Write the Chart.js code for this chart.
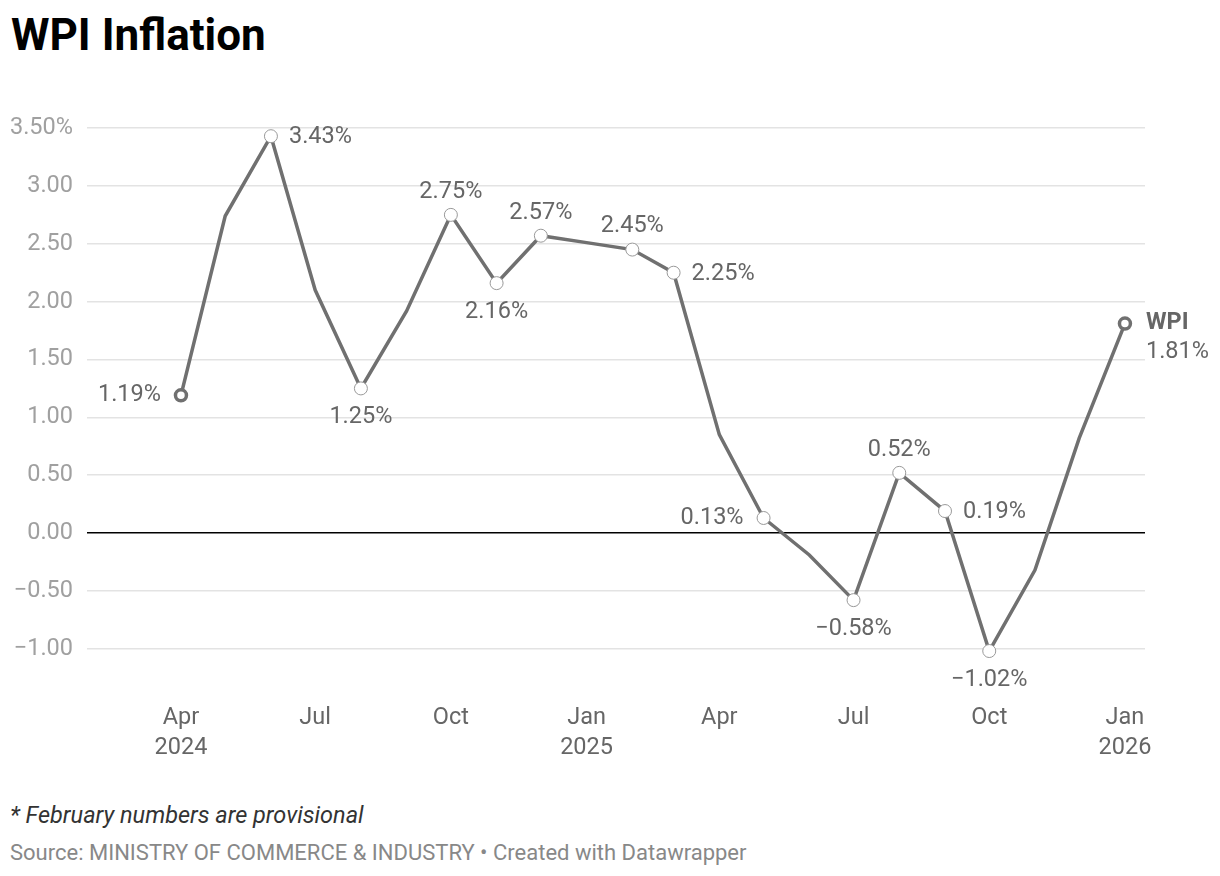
<!DOCTYPE html>
<html>
<head>
<meta charset="utf-8">
<script src="https://cdn.jsdelivr.net/npm/chart.js@4.4.1/dist/chart.umd.min.js"></script>
<style>
  html, body { margin: 0; padding: 0; background: #fff; }
  body { width: 1220px; height: 876px; position: relative; overflow: hidden; font-family: Roboto, "Noto Sans", sans-serif; }
  #title { position: absolute; left: 11px; top: 9px; font-size: 44px; font-weight: 700; color: #000; line-height: 52px; }
  #wrap { position: absolute; left: 0; top: 100px; width: 1220px; height: 680px; }
  #note { position: absolute; left: 10px; top: 800px; font-size: 23.5px; font-style: italic; color: #333; line-height: 30px; }
  #source { position: absolute; left: 10px; top: 839px; font-size: 22px; color: #888; line-height: 28px; }
</style>
</head>
<body>
<div id="title">WPI Inflation</div>
<div id="wrap"><canvas id="c"></canvas></div>
<div id="note">* February numbers are provisional</div>
<div id="source">Source: MINISTRY OF COMMERCE &amp; INDUSTRY • Created with Datawrapper</div>
<script>
// ---- data ----
const months = ["2024-04","2024-05","2024-06","2024-07","2024-08","2024-09","2024-10","2024-11","2024-12",
                "2025-01","2025-02","2025-03","2025-04","2025-05","2025-06","2025-07","2025-08","2025-09",
                "2025-10","2025-11","2025-12","2026-01"];
const wpi = [1.19, 2.74, 3.43, 2.10, 1.25, 1.92, 2.75, 2.16, 2.57,
             2.51, 2.45, 2.25, 0.85, 0.13, -0.19, -0.58, 0.52, 0.19,
             -1.02, -0.32, 0.82, 1.81];
const yTicks = [-1, -0.5, 0, 0.5, 1, 1.5, 2, 2.5, 3, 3.5];
const xTickMonths = ["2024-04","2024-07","2024-10","2025-01","2025-04","2025-07","2025-10","2026-01"];
const monthNames = ["Jan","Feb","Mar","Apr","May","Jun","Jul","Aug","Sep","Oct","Nov","Dec"];
// label placement per point (null = no label/marker)
const labelPos = ["left", null, "right", null, "below", null, "above", "below", "above",
                  null, "above", "right", null, "left", null, "below", "above", "right",
                  "below", null, null, "end"];

const base = Date.UTC(2024, 3, 1);
function dayOf(m) { const [y, mo] = m.split("-").map(Number); return (Date.UTC(y, mo - 1, 1) - base) / 86400000; }
const points = months.map((m, i) => ({ x: dayOf(m), y: wpi[i] }));
const xTickVals = xTickMonths.map(dayOf);

const lineColor = "#707070";
const lastIdx = wpi.length - 1;

const radii = labelPos.map((p, i) => (i === 0 || i === lastIdx) ? 5.5 : (p ? 6.5 : 0));
const bw = labelPos.map((p, i) => (i === 0 || i === lastIdx) ? 3.5 : 1);
const bc = labelPos.map((p, i) => (i === 0 || i === lastIdx) ? lineColor : "#999");

function fmt(v) { return (v < 0 ? "\u2212" + Math.abs(v).toFixed(2) : v.toFixed(2)) + "%"; }

const labelPlugin = {
  id: "dlabels",
  afterDatasetsDraw(chart) {
    const ctx = chart.ctx;
    const meta = chart.getDatasetMeta(0);
    ctx.save();
    ctx.fillStyle = "#666";
    ctx.font = "23.5px Roboto";
    meta.data.forEach((pt, i) => {
      const pos = labelPos[i];
      if (!pos) return;
      const txt = fmt(wpi[i]);
      const x = pt.x, y = pt.y;
      ctx.textBaseline = "middle";
      if (pos === "left") { ctx.textAlign = "right"; ctx.fillText(txt, x - 20, y); }
      else if (pos === "right") { ctx.textAlign = "left"; ctx.fillText(txt, x + 18, y + 1); }
      else if (pos === "above") { ctx.textAlign = "center"; ctx.fillText(txt, x, y - 23); }
      else if (pos === "below") { ctx.textAlign = "center"; ctx.fillText(txt, x, y + 29); }
      else if (pos === "end") {
        ctx.textAlign = "left";
        ctx.font = "bold 23.5px Roboto";
        ctx.fillText("WPI", x + 21, y);
        ctx.font = "23.5px Roboto";
        ctx.fillText(txt, x + 21, y + 29);
      }
    });
    ctx.restore();
  }
};

new Chart(document.getElementById("c"), {
  type: "scatter",
  data: {
    datasets: [{
      data: points,
      showLine: true,
      borderColor: lineColor,
      borderWidth: 3.5,
      tension: 0,
      pointRadius: radii,
      pointHoverRadius: radii,
      pointBackgroundColor: "#fff",
      pointBorderColor: bc,
      pointBorderWidth: bw,
      clip: false
    }]
  },
  options: {
    responsive: true,
    maintainAspectRatio: false,
    animation: false,
    events: [],
    layout: { padding: { top: 23, right: 75, left: 0, bottom: 0 } },
    plugins: { legend: { display: false }, tooltip: { enabled: false } },
    scales: {
      x: {
        type: "linear",
        min: -63.7,
        max: 653.6,
        border: { display: false },
        grid: { display: false, drawTicks: false },
        afterFit(scale) { scale.height = 85; },
        afterBuildTicks(scale) { scale.ticks = xTickVals.map(v => ({ value: v })); },
        ticks: {
          padding: 8,
          maxRotation: 0,
          autoSkip: false,
          color: "#666",
          font: { family: "Roboto", size: 23.5, lineHeight: 1.28 },
          callback(v) {
            const i = xTickVals.indexOf(v);
            const m = xTickMonths[i];
            const [yy, mo] = m.split("-").map(Number);
            const name = monthNames[mo - 1];
            if (i === 0 || mo === 1) return [name, String(yy)];
            return name;
          }
        }
      },
      y: {
        min: -1.4,
        max: 3.5,
        border: { display: false },
        afterFit(scale) { scale.width = 87; },
        afterBuildTicks(scale) { scale.ticks = yTicks.map(v => ({ value: v })); },
        grid: {
          drawTicks: false,
          color: ctx => (ctx.tick && ctx.tick.value === 0) ? "#000" : "#e3e3e3",
          lineWidth: 1.5
        },
        ticks: {
          padding: 14,
          color: "#a0a0a0",
          font: { family: "Roboto", size: 23.5 },
          callback(v) { return v === 3.5 ? "3.50%" : (v < 0 ? "\u2212" + Math.abs(v).toFixed(2) : v.toFixed(2)); }
        }
      }
    }
  },
  plugins: [labelPlugin]
});
</script>
</body>
</html>
